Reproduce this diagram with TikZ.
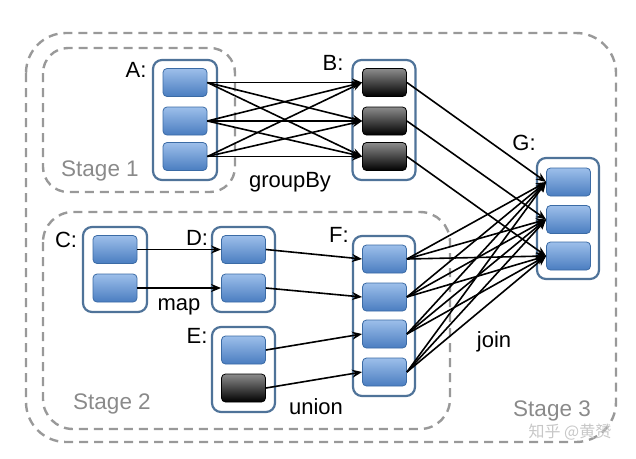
\documentclass[tikz,border=0pt]{standalone}
\usepackage{fontspec}
\setmainfont{Liberation Sans}
\newfontfamily\cjkfont{Noto Sans CJK SC}
\usetikzlibrary{arrows.meta}
\definecolor{bluetop}{HTML}{9DBFEA}
\definecolor{bluebot}{HTML}{4A7DC0}
\definecolor{blueedge}{HTML}{3B6BA5}
\definecolor{contedge}{HTML}{4F7399}
\definecolor{stagegray}{HTML}{999999}
\definecolor{stagetext}{HTML}{8A8A8A}
\tikzset{
  stagebox/.style={draw=stagegray, line width=2.4pt, dash pattern=on 9pt off 6pt},
  cont/.style={draw=contedge, line width=2.2pt, rounded corners=9pt, fill=white, inner sep=0pt},
  bbox/.style={draw=blueedge, line width=0.8pt, rounded corners=4pt, top color=bluetop, bottom color=bluebot, minimum width=44pt, minimum height=28pt, inner sep=0pt},
  dbox/.style={draw=black, line width=0.8pt, rounded corners=4pt, top color=black!45, bottom color=black, minimum width=44pt, minimum height=28pt, inner sep=0pt},
  lbl/.style={font=\fontsize{22}{25}\selectfont, inner sep=0pt},
  stg/.style={font=\fontsize{22.5}{25}\selectfont, text=stagetext, inner sep=0pt},
  conn/.style={line width=1.6pt, -{Stealth[length=10pt,width=8pt]}},
}
\begin{document}
\begin{tikzpicture}[x=1pt,y=-1pt]
\useasboundingbox (0,0) rectangle (636,458);
% stage regions
\draw[stagebox, rounded corners=40pt] (26,33) rectangle (616,442);
\draw[stagebox, rounded corners=25pt] (43,48) rectangle (235,192);
\draw[stagebox, rounded corners=30pt] (43,212) rectangle (450,429);
% containers
\node[cont, minimum width=64pt, minimum height=120pt] (A) at (185,120) {};
\node[cont, minimum width=63pt, minimum height=120pt] (B) at (384,120) {};
\node[cont, minimum width=62pt, minimum height=121pt] (G) at (568,218.5) {};
\node[cont, minimum width=62pt, minimum height=160pt] (F) at (384,316) {};
\node[cont, minimum width=64pt, minimum height=85pt] (C) at (115,269.5) {};
\node[cont, minimum width=63pt, minimum height=85pt] (D) at (243.5,269.5) {};
\node[cont, minimum width=63pt, minimum height=85pt] (E) at (243.5,369.5) {};
% partitions
\node[bbox] (a1) at (185,82.5) {};
\node[bbox] (a2) at (185,121) {};
\node[bbox] (a3) at (185,156.5) {};
\node[dbox] (b1) at (384.5,82.5) {};
\node[dbox] (b2) at (384.5,121) {};
\node[dbox] (b3) at (384.5,156.5) {};
\node[bbox] (g1) at (568.5,182) {};
\node[bbox] (g2) at (568.5,219.5) {};
\node[bbox] (g3) at (568.5,256) {};
\node[bbox] (f1) at (384.5,259) {};
\node[bbox] (f2) at (384.5,297) {};
\node[bbox] (f3) at (384.5,334) {};
\node[bbox] (f4) at (384.5,372) {};
\node[bbox] (c1) at (115,249.5) {};
\node[bbox] (c2) at (115,288) {};
\node[bbox] (d1) at (243.5,249.5) {};
\node[bbox] (d2) at (243.5,288) {};
\node[bbox] (e1) at (243.5,350) {};
\node[dbox] (e2) at (243.5,388) {};
% connectors
\foreach \s in {a1,a2,a3}{\foreach \t in {b1,b2,b3}{\draw[conn] (\s.east) -- (\t.west);}}
\draw[conn] (b1.east) -- (g1.west);
\draw[conn] (b2.east) -- (g2.west);
\draw[conn] (b3.east) -- (g3.west);
\foreach \s in {f1,f2,f3,f4}{\foreach \t in {g1,g2,g3}{\draw[conn] (\s.east) -- (\t.west);}}
\draw[conn] (c1.east) -- (d1.west);
\draw[conn] (c2.east) -- (d2.west);
\draw[conn] (d1.east) -- (f1.west);
\draw[conn] (d2.east) -- (f2.west);
\draw[conn] (e1.east) -- (f3.west);
\draw[conn] (e2.east) -- (f4.west);
% labels
\node[lbl] (lA) at (136,70) {A:};
\node[lbl] (lB) at (333,63) {B:};
\node[lbl] (lG) at (524,143) {G:};
\node[lbl] (lF) at (339,235) {F:};
\node[lbl] (lC) at (66,240) {C:};
\node[lbl] (lD) at (197,238) {D:};
\node[lbl] (lE) at (197,336) {E:};
\node[lbl] (tgroup) at (290,182) {groupBy};
\node[lbl] (tmap) at (179,307) {map};
\node[lbl] (tunion) at (316,407) {union};
\node[lbl] (tjoin) at (494,342) {join};
\node[stg] (s1) at (100,171) {Stage 1};
\node[stg] (s2) at (112,404) {Stage 2};
\node[stg] (s3) at (552,411) {Stage 3};
\node[font=\cjkfont\fontsize{16}{18}\selectfont, text=black!22, inner sep=0pt] (wm) at (570,432) {知乎 @黄赟};
\end{tikzpicture}
\end{document}
